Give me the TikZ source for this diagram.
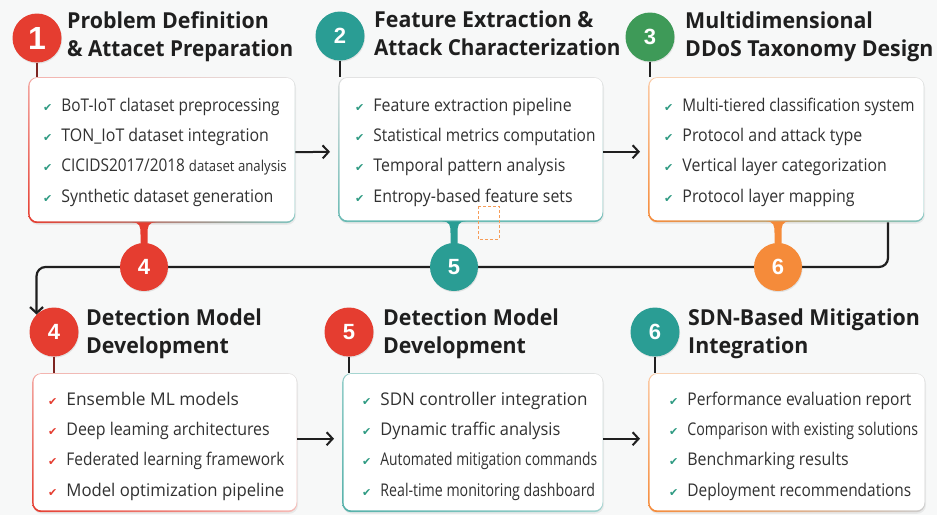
\documentclass[tikz,border=0pt]{standalone}
\usepackage{fontspec}
\usepackage{graphicx}
\setmainfont{Open Sans}[FakeStretch=0.91]
\newfontfamily\titlefont{Open Sans}[FakeStretch=0.97]
\newfontfamily\checkfont{DejaVu Sans}
\newfontfamily\numfont{Liberation Sans}
\usetikzlibrary{arrows.meta,shadows,calc,shadings}
\definecolor{cred}{HTML}{E53D30}
\definecolor{cteal}{HTML}{2A9D94}
\definecolor{cgreen}{HTML}{3E9A58}
\definecolor{corange}{HTML}{F58B3A}
\definecolor{ink}{HTML}{1F1F1F}
\definecolor{bg}{HTML}{F7F8F8}
\definecolor{darkred}{HTML}{7D2420}
\definecolor{ckteal}{HTML}{2E9A82}
\newcommand\chk[1]{\textcolor{#1}{\checkfont\fontsize{11}{11}\selectfont ✔}}
\newcommand\chklist[5]{\begin{tabular}[t]{@{}l@{\hspace{9pt}}l@{}}
\chk{#1} & #2\\ \chk{#1} & #3\\ \chk{#1} & #4\\ \chk{#1} & #5
\end{tabular}}
\newcommand\sq[2]{\scalebox{#1}[1]{#2}}
\newcommand\ttl[2]{\begin{tabular}[t]{@{}l@{}}#1\\#2\end{tabular}}
\newcommand\flare[3]{%
  \coordinate (f#1) at (#2.north |- #1.south);
  \fill[#3] ($(f#1)+(-12,-1)$) .. controls ($(f#1)+(-4,-1)$) and ($(f#1)+(-3.5,3)$) .. ($(f#1)+(-3.5,11)$)
    -- ($(#2.north)+(-3.5,4)$) -- ($(#2.north)+(3.5,4)$) -- ($(f#1)+(3.5,11)$)
    .. controls ($(f#1)+(3.5,3)$) and ($(f#1)+(4,-1)$) .. ($(f#1)+(12,-1)$) -- cycle;}
\newcommand\cardinner[1]{\fill[white, rounded corners=8pt] ($(#1.south west)+(1.6,-2)$) rectangle ($(#1.north east)+(-0.9,0.9)$);}
\tikzset{
  numc/.style={circle, minimum size=49pt, inner sep=0pt, fill=#1, text=white,
    font=\numfont\bfseries\fontsize{22}{22}\selectfont,
    drop shadow={opacity=0.18, shadow xshift=0.6pt, shadow yshift=-1.2pt}},
  ttlnode/.style={anchor=base west, inner sep=0pt, text=ink, font=\titlefont\bfseries\fontsize{22}{28}\selectfont},
  listnode/.style={anchor=base west, inner sep=0pt, text=ink!92, font=\fontsize{17.5}{30.4}\selectfont},
  card/.style={anchor=north west, rectangle, rounded corners=9pt, inner sep=0pt, draw=none,
    drop shadow={opacity=0.12, shadow xshift=0.8pt, shadow yshift=-1.6pt}},
  stem/.style={line width=2pt, draw=#1},
  flow/.style={line width=2pt, draw=ink, -{Straight Barb[length=6pt,width=13pt]}, shorten >=8pt},
  loopline/.style={line width=2.2pt, draw=ink, rounded corners=9pt, -{Straight Barb[length=6pt,width=13pt]}},
  marker/.style={draw=corange!85, densely dashed, line width=0.8pt},
}
\begin{document}
\begin{tikzpicture}[x=1pt, y=-1pt]
\useasboundingbox (0,0) rectangle (937,515);
\fill[bg] (0,0) rectangle (937,515);

% cards
\node[card, minimum width=267pt, minimum height=146pt, upper left=cred!45, lower left=cred, upper right=gray!25, lower right=cteal!60] (b1) at (28,77) {};
\node[card, minimum width=265pt, minimum height=145pt, upper left=gray!25, lower left=cteal!70, upper right=gray!25, lower right=cteal!70] (b2) at (338,77) {};
\node[card, minimum width=276pt, minimum height=145pt, upper left=corange!45, lower left=corange, upper right=gray!25, lower right=cteal!60] (b3) at (648,77) {};
\node[card, minimum width=265pt, minimum height=139pt, upper left=cred!45, lower left=cred, upper right=gray!25, lower right=cred!35] (b4) at (32,373) {};
\node[card, minimum width=261pt, minimum height=139pt, upper left=cteal!50, lower left=cteal!80, upper right=gray!25, lower right=cteal!45] (b5) at (342,373) {};
\node[card, minimum width=277pt, minimum height=139pt, upper left=corange!45, lower left=corange, upper right=gray!25, lower right=gray!40] (b6) at (648,373) {};
\cardinner{b1}\cardinner{b2}\cardinner{b3}\cardinner{b4}\cardinner{b5}\cardinner{b6}

% loop connector
\coordinate (rx) at (888,0);

% numbered circles
\node[numc=cred, font=\numfont\bfseries\fontsize{32}{32}\selectfont] (c1) at (37,38) {1};
\node[numc=cteal] (c2) at (340,36) {2};
\node[numc=cgreen] (c3) at (650,37) {3};
\node[numc=cred] (c4) at (54,332) {4};
\node[numc=cred] (c5) at (349,332) {5};
\node[numc=cteal] (c6) at (655,332) {6};

\draw[loopline] (rx |- b3.south) |- (c4.north west |- 0,267) -- (c4.north west);

\node[numc=cred, minimum size=48pt] (m4) at (144,267) {4};
\node[numc=cteal, minimum size=48pt] (m5) at (454,267) {5};
\node[numc=corange, minimum size=48pt] (m6) at (778,267) {6};

\flare{b1}{m4}{cred}
\flare{b2}{m5}{cteal}
\flare{b3}{m6}{corange}

% stems
\draw[stem=darkred] (c1.south) -- (c1.south |- b1.north);
\draw[stem=ink] (c2.south) -- (c2.south |- b2.north);
\draw[stem=ink] (c3.south) -- (c3.south |- b3.north);
\draw[stem=darkred] (c4.south) -- (c4.south |- b4.north);
\draw[stem=ink] (c5.south) -- (c5.south |- b5.north);
\draw[stem=ink] (c6.south) -- (c6.south |- b6.north);

% flow arrows
\draw[flow] ($(b1.east)+(0,2)$) -- ($(b2.west)+(0,2)$);
\draw[flow] ($(b2.east)+(0,2)$) -- ($(b3.west)+(0,2)$);
\draw[flow] ($(b4.east)+(0,-4)$) -- ($(b5.west)+(0,-4)$);
\draw[flow] ($(b5.east)+(0,-4)$) -- ($(b6.west)+(0,-4)$);

% titles
\node[ttlnode] (t1) at (67,28) {\ttl{Problem Definition}{\sq{0.97}{\& Attacet Preparation}}};
\node[ttlnode] (t2) at (374,27) {\ttl{Feature Extraction \&}{\sq{0.97}{Attack Characterization}}};
\node[ttlnode] (t3) at (685,28) {\ttl{Multidimensional}{DDoS Taxonomy Design}};
\node[ttlnode] (t4) at (86,325) {\ttl{Detection Model}{Development}};
\node[ttlnode] (t5) at (383,325) {\ttl{Detection Model}{Development}};
\node[ttlnode] (t6) at (688,325) {\ttl{SDN-Based Mitigation}{Integration}};

% lists
\node[listnode] (l1) at (43,111) {\chklist{ckteal}{\sq{0.965}{BoT-IoT clataset preprocessing}}{TON\_IoT dataset integration}{\sq{0.965}{CICIDS2017/2018 {\fontsize{15}{15}\selectfont dataset analysis}}}{Synthetic dataset generation}};
\node[listnode] (l2) at (355,111) {\chklist{ckteal}{Feature extraction pipeline}{\sq{0.97}{Statistical metrics computation}}{Temporal pattern analysis}{Entropy-based feature sets}};
\node[listnode] (l3) at (664,111) {\chklist{ckteal}{\sq{0.96}{Multi-tiered classification system}}{Protocol and attack type}{Vertical layer categorization}{Protocol layer mapping}};
\node[listnode] (l4) at (48,405) {\chklist{cred}{\sq{1.09}{Ensemble ML models}}{Deep leaming architectures}{\sq{0.97}{Federated learning framework}}{\sq{1.05}{Model optimization pipeline}}};
\node[listnode] (l5) at (362,405) {\chklist{ckteal}{\sq{1.07}{SDN controller integration}}{\sq{1.03}{Dynamic traffic analysis}}{\sq{0.87}{Automated mitigation commands}}{\sq{0.89}{Real-time monitoring dashboard}}};
\node[listnode] (l6) at (669,405) {\chklist{ckteal}{\sq{0.98}{Performance evaluation report}}{\sq{0.89}{Comparison with existing solutions}}{Benchmarking results}{\sq{0.97}{Deployment recommendations}}};

\draw[marker] (478,206) rectangle (499,239);
\end{tikzpicture}
\end{document}
